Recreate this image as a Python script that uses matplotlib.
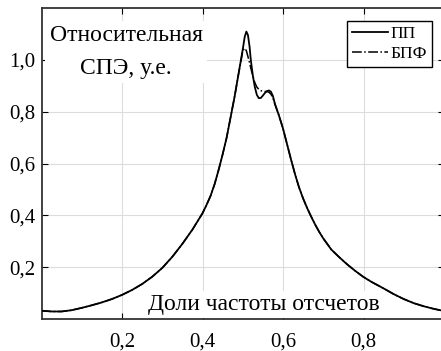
import matplotlib
matplotlib.use("Agg")
import matplotlib.pyplot as plt
from matplotlib.ticker import FuncFormatter

# Frequency as a fraction of the sampling rate
freq = [0.000, 0.025, 0.050, 0.075, 0.100, 0.125, 0.150, 0.175, 0.200, 0.225,
        0.250, 0.275, 0.300, 0.325, 0.350, 0.375, 0.400,
        0.410, 0.420, 0.430, 0.440, 0.450, 0.460, 0.470, 0.480, 0.490,
        0.495, 0.500, 0.505, 0.509, 0.513, 0.517, 0.520,
        0.525, 0.530, 0.535, 0.540, 0.545, 0.550, 0.555, 0.560, 0.565, 0.570,
        0.575, 0.580,
        0.590, 0.600, 0.610, 0.620, 0.630, 0.640, 0.650, 0.660, 0.670, 0.680,
        0.690, 0.700,
        0.720, 0.740, 0.760, 0.780, 0.800, 0.820,
        0.850, 0.875, 0.900, 0.925, 0.950, 0.975, 1.000]

# Relative power spectral density, direct estimate ("ПП")
psd_pp = [0.032, 0.029, 0.029, 0.034, 0.043, 0.053, 0.064, 0.077, 0.093, 0.112,
          0.135, 0.163, 0.197, 0.240, 0.290, 0.345, 0.408,
          0.440, 0.475, 0.520, 0.575, 0.635, 0.700, 0.780, 0.860, 0.950,
          0.995, 1.040, 1.090, 1.109, 1.095, 1.050, 1.000,
          0.940, 0.895, 0.865, 0.852, 0.853, 0.862, 0.872, 0.879, 0.882, 0.877,
          0.860, 0.830,
          0.785, 0.735, 0.675, 0.615, 0.558, 0.507, 0.465, 0.428, 0.395, 0.364,
          0.336, 0.311,
          0.268, 0.238, 0.210, 0.185, 0.162, 0.143,
          0.118, 0.096, 0.077, 0.061, 0.049, 0.039, 0.031]

# Relative power spectral density, FFT estimate ("БПФ")
psd_fft = [0.032, 0.029, 0.029, 0.034, 0.043, 0.053, 0.064, 0.077, 0.093, 0.112,
           0.135, 0.163, 0.197, 0.240, 0.290, 0.345, 0.408,
           0.440, 0.475, 0.520, 0.575, 0.635, 0.700, 0.780, 0.860, 0.950,
           0.990, 1.035, 1.045, 1.035, 1.012, 0.988, 0.968,
           0.938, 0.912, 0.895, 0.886, 0.881, 0.879, 0.878, 0.878, 0.875, 0.868,
           0.852, 0.828,
           0.785, 0.735, 0.675, 0.615, 0.558, 0.507, 0.465, 0.428, 0.395, 0.364,
           0.336, 0.311,
           0.268, 0.238, 0.210, 0.185, 0.162, 0.143,
           0.118, 0.096, 0.077, 0.061, 0.049, 0.039, 0.031]

x_ticks = [0.2, 0.4, 0.6, 0.8]
y_ticks = [0.2, 0.4, 0.6, 0.8, 1.0]

plt.rcParams["font.family"] = ["Liberation Serif", "DejaVu Serif"]

W, H = 441, 351
fig = plt.figure(figsize=(W / 100, H / 100), dpi=100)
ax = fig.add_axes([41.5 / W, (H - 319) / H, 402.5 / W, 311 / H])

ax.plot(freq, psd_pp, color="black", lw=1.3, label="ПП", zorder=3)
ax.plot(freq, psd_fft, color="black", lw=1.1, ls="-.", label="БПФ", zorder=3)

ax.set_xlim(0, 1.0)
ax.set_ylim(0, 1.2)
ax.set_xticks(x_ticks)
ax.set_yticks(y_ticks)
comma = FuncFormatter(lambda v, p: f"{v:.1f}".replace(".", ","))
ax.xaxis.set_major_formatter(comma)
ax.yaxis.set_major_formatter(comma)
ax.tick_params(direction="in", top=True, right=True, length=4, width=0.8,
               labelsize=15, colors="black")
ax.tick_params(axis="x", pad=10)
ax.tick_params(axis="y", pad=4.5)
ax.grid(True, color="#dcdcdc", lw=0.8)
ax.set_axisbelow(True)
for s in ax.spines.values():
    s.set_color("#333333")
    s.set_linewidth(1.3)

ax.text(0.21, 0.858, "Относительная\nСПЭ, у.е.", transform=ax.transAxes,
        ha="center", va="center", fontsize=17, linespacing=1.75,
        bbox=dict(facecolor="white", edgecolor="none", pad=3), zorder=4)
ax.text(0.552, 0.029, "Доли частоты отсчетов", transform=ax.transAxes,
        ha="center", va="baseline", fontsize=17,
        bbox=dict(facecolor="white", edgecolor="none", pad=2), zorder=4)

leg = ax.legend(loc="upper right", bbox_to_anchor=(0.970, 0.958),
                borderaxespad=0, fontsize=12.5, handlelength=2.1,
                handletextpad=0.1, borderpad=0.3, labelspacing=0.2,
                fancybox=False, framealpha=1, edgecolor="black")
leg.get_frame().set_linewidth(1.0)
leg.set_zorder(5)

fig.savefig("out.png", dpi=100)
